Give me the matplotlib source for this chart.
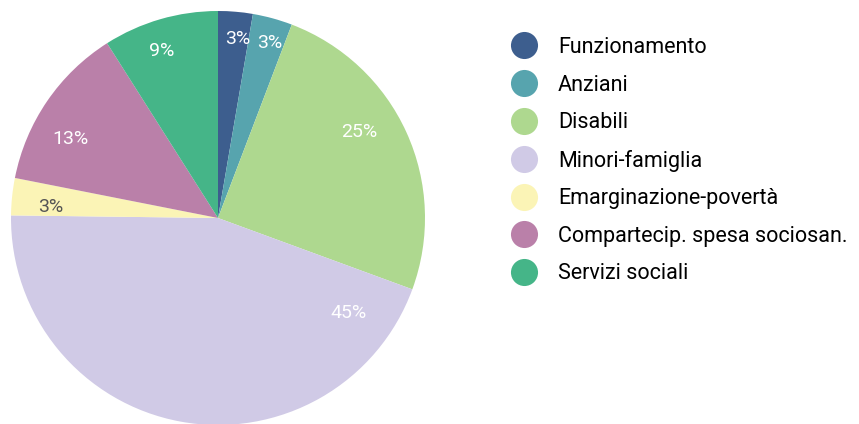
import matplotlib.pyplot as plt
from matplotlib.lines import Line2D
import numpy as np

plt.rcParams['font.family'] = ['Roboto', 'DejaVu Sans']

# Spesa sociale per area di intervento (%)
categories = ['Funzionamento', 'Anziani', 'Disabili', 'Minori-famiglia',
              'Emarginazione-povertà', 'Compartecip. spesa sociosan.', 'Servizi sociali']
values = [2.7, 3.1, 24.8, 44.6, 2.9, 12.9, 9.0]
colors = ['#3d5e8e', '#57a4ae', '#aed88f', '#d0cae6', '#fbf4b6', '#ba80a9', '#45b588']
label_colors = ['white', 'white', 'white', 'white', '#555555', 'white', 'white']

fig = plt.figure(figsize=(8.59, 4.24), dpi=100)
ax = fig.add_axes([11 / 859, -1 / 424, 414 / 859, 414 / 424])

wedges, texts, autotexts = ax.pie(values, colors=colors, startangle=90, counterclock=False,
                                  autopct='%.0f%%', pctdistance=0.82,
                                  wedgeprops=dict(linewidth=0),
                                  textprops=dict(fontsize=14))
for t, c in zip(autotexts, label_colors):
    t.set_color(c)

# label placement as in the original (angle clockwise from top, radius)
lab_ang = [6.3, 16.5, 58.8, 126, 273.7, 298, 341.4]
lab_r = [0.87, 0.88, 0.80, 0.78, 0.81, 0.81, 0.85]
for t, a, r in zip(autotexts, lab_ang, lab_r):
    th = np.deg2rad(90 - a)
    t.set_position((r * np.cos(th), r * np.sin(th)))

ax.set_xlim(-1, 1)
ax.set_ylim(-1, 1)
ax.set_aspect('equal')

handles = [Line2D([0], [0], marker='o', linestyle='', markersize=19.5,
                  markerfacecolor=c, markeredgewidth=0) for c in colors]
fig.legend(handles, categories, loc='upper left', bbox_to_anchor=(511 / 859, 1 - 37 / 424),
           frameon=False, fontsize=15.5, handlelength=1.2, handletextpad=0.98,
           labelspacing=0.77, borderaxespad=0, borderpad=0)

fig.savefig('out.png', dpi=100)
